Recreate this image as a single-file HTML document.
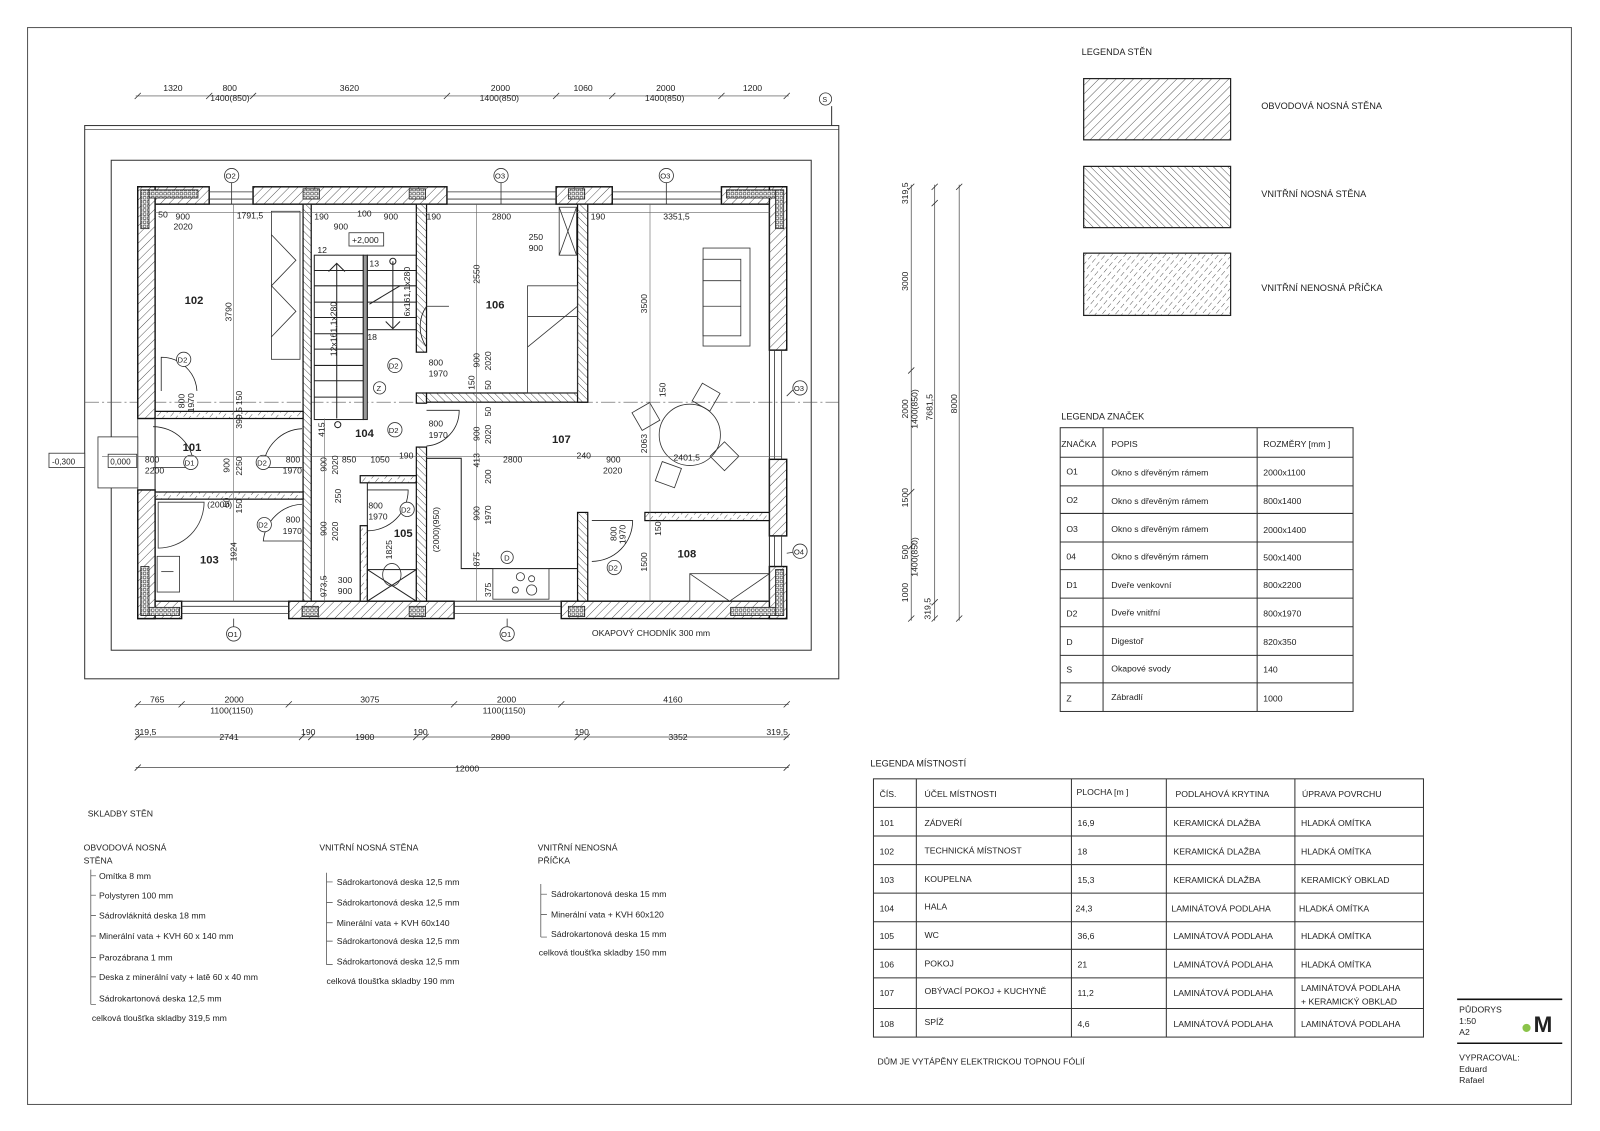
<!DOCTYPE html>
<html><head><meta charset="utf-8"><style>
html,body{margin:0;padding:0;background:#fff;}
svg{display:block;}
text{font-family:"Liberation Sans",Arial,sans-serif;fill:#222;}
</style></head><body>
<svg width="1600" height="1131" viewBox="0 0 1568 1108" preserveAspectRatio="none" xmlns="http://www.w3.org/2000/svg">
<defs>
<pattern id="hA" width="6" height="6" patternUnits="userSpaceOnUse" patternTransform="rotate(45)"><rect width="6" height="6" fill="#fff"/><line x1="0" y1="0" x2="0" y2="6" stroke="#333" stroke-width="0.8"/></pattern>
<pattern id="hB" width="5" height="5" patternUnits="userSpaceOnUse" patternTransform="rotate(-45)"><rect width="5" height="5" fill="#fff"/><line x1="0" y1="0" x2="0" y2="5" stroke="#333" stroke-width="0.8"/></pattern>
<pattern id="hC" width="5" height="8" patternUnits="userSpaceOnUse" patternTransform="rotate(40)"><rect width="5" height="8" fill="#fff"/><line x1="0" y1="0" x2="0" y2="5" stroke="#333" stroke-width="0.8"/></pattern>
<pattern id="ins" width="4" height="4" patternUnits="userSpaceOnUse"><rect width="4" height="4" fill="#fff"/><rect x="0.5" y="0.5" width="2.5" height="2.5" fill="none" stroke="#333" stroke-width="0.6"/></pattern>
</defs>
<rect x="0" y="0" width="1568" height="1108" fill="#fff"/>
<rect x="27" y="27" width="1513" height="1055" fill="none" stroke="#555" stroke-width="1"/>

<rect x="83" y="123" width="739" height="542" fill="none" stroke="#333" stroke-width="1"/>
<line x1="83" y1="127" x2="822" y2="127" stroke="#333" stroke-width="0.6"/>
<rect x="109" y="157" width="686" height="480" fill="none" stroke="#333" stroke-width="1"/>
<line x1="815" y1="104" x2="815" y2="123" stroke="#333"/>
<circle cx="809" cy="97" r="6" fill="#fff" stroke="#333" stroke-width="0.8"/><text x="806" y="100" font-size="7">S</text>
<line x1="83" y1="394" x2="822" y2="394" stroke="#555" stroke-width="0.7" stroke-dasharray="14 3 2 3"/>

<g stroke="#111" stroke-width="1.4">
<rect x="135" y="183" width="70" height="17" fill="url(#hA)"/>
<rect x="248" y="183" width="190" height="17" fill="url(#hA)"/>
<rect x="545" y="183" width="55" height="17" fill="url(#hA)"/>
<rect x="707" y="183" width="64" height="17" fill="url(#hA)"/>
<rect x="135" y="589" width="43" height="17" fill="url(#hA)"/>
<rect x="283" y="589" width="162" height="17" fill="url(#hA)"/>
<rect x="550" y="589" width="221" height="17" fill="url(#hA)"/>
<rect x="135" y="183" width="17" height="227" fill="url(#hA)"/>
<rect x="135" y="480" width="17" height="126" fill="url(#hA)"/>
<rect x="754" y="183" width="17" height="160" fill="url(#hA)"/>
<rect x="754" y="450" width="17" height="75" fill="url(#hA)"/>
<rect x="754" y="555" width="17" height="51" fill="url(#hA)"/>
</g>
<g stroke="#222" stroke-width="0.8">
<rect x="138" y="186" width="56" height="8" fill="url(#ins)"/>
<rect x="138" y="186" width="8" height="38" fill="url(#ins)"/>
<rect x="712" y="186" width="56" height="8" fill="url(#ins)"/>
<rect x="760" y="186" width="8" height="38" fill="url(#ins)"/>
<rect x="138" y="595" width="38" height="8" fill="url(#ins)"/>
<rect x="138" y="555" width="8" height="48" fill="url(#ins)"/>
<rect x="716" y="595" width="52" height="8" fill="url(#ins)"/>
<rect x="760" y="558" width="8" height="45" fill="url(#ins)"/>
<rect x="297" y="185" width="16" height="10" fill="url(#ins)"/>
<rect x="401" y="185" width="16" height="10" fill="url(#ins)"/>
<rect x="557" y="185" width="16" height="10" fill="url(#ins)"/>
<rect x="296" y="594" width="16" height="10" fill="url(#ins)"/>
<rect x="401" y="594" width="16" height="10" fill="url(#ins)"/>
<rect x="557" y="594" width="16" height="10" fill="url(#ins)"/>
</g>
<g stroke="#333" stroke-width="0.8">
<line x1="205" y1="188" x2="248" y2="188"/><line x1="205" y1="195" x2="248" y2="195"/>
<line x1="438" y1="188" x2="545" y2="188"/><line x1="438" y1="195" x2="545" y2="195"/>
<line x1="600" y1="188" x2="707" y2="188"/><line x1="600" y1="195" x2="707" y2="195"/>
<line x1="178" y1="594" x2="283" y2="594"/><line x1="178" y1="601" x2="283" y2="601"/>
<line x1="445" y1="594" x2="550" y2="594"/><line x1="445" y1="601" x2="550" y2="601"/>
<line x1="759" y1="343" x2="759" y2="450"/><line x1="766" y1="343" x2="766" y2="450"/>
<line x1="759" y1="525" x2="759" y2="555"/><line x1="766" y1="525" x2="766" y2="555"/>
<line x1="135" y1="410" x2="135" y2="480"/><line x1="152" y1="410" x2="152" y2="480"/>
</g>
<g stroke="#333" stroke-width="0.8" fill="#fff">
<line x1="227" y1="178" x2="227" y2="200"/><circle cx="227" cy="172" r="7"/>
<line x1="491" y1="178" x2="491" y2="200"/><circle cx="491" cy="172" r="7"/>
<line x1="653" y1="178" x2="653" y2="200"/><circle cx="653" cy="172" r="7"/>
<line x1="229" y1="606" x2="229" y2="614"/><circle cx="229" cy="621" r="7"/>
<line x1="497" y1="606" x2="497" y2="614"/><circle cx="497" cy="621" r="7"/>
<line x1="771" y1="388" x2="777" y2="382"/><circle cx="784" cy="380" r="7"/>
<line x1="771" y1="542" x2="777" y2="541"/><circle cx="784" cy="540" r="7"/>
</g>
<g font-size="7.5">
<text x="221" y="175">O2</text><text x="485" y="175">O3</text><text x="647" y="175">O3</text>
<text x="223" y="624">O1</text><text x="491" y="624">O1</text><text x="778" y="383">O3</text><text x="778" y="543">O4</text>
</g>

<g stroke="#111" stroke-width="1.2">
<rect x="297" y="200" width="8" height="389" fill="url(#hB)"/>
<rect x="408" y="200" width="10" height="145" fill="url(#hB)"/>
<rect x="408" y="385" width="10" height="10" fill="url(#hB)"/>
<rect x="408" y="438" width="10" height="151" fill="url(#hB)"/>
<rect x="418" y="385" width="158" height="9" fill="url(#hB)"/>
<rect x="566" y="200" width="10" height="194" fill="url(#hB)"/>
<rect x="566" y="502" width="10" height="87" fill="url(#hB)"/>
<rect x="632" y="502" width="122" height="8" fill="url(#hC)"/>
<rect x="152" y="403" width="145" height="7" fill="url(#hC)"/>
<rect x="152" y="482" width="145" height="7" fill="url(#hC)"/>
<rect x="353" y="466" width="55" height="7" fill="url(#hC)"/>
<rect x="353" y="515" width="7" height="74" fill="url(#hC)"/>
</g>
<g stroke="#222" stroke-width="1" fill="none">
<rect x="152" y="200" width="602" height="389"/>
<polyline points="418,449 452,449 452,557 566,557"/>
<line x1="360" y1="473" x2="360" y2="515"/>
<rect x="360" y="558" width="48" height="31"/>
<line x1="360" y1="558" x2="408" y2="589"/><line x1="408" y1="558" x2="360" y2="589"/>
</g>
<g stroke="#222" stroke-width="1" fill="none">
<rect x="308" y="250" width="48" height="161"/>
<rect x="356" y="250" width="4" height="161" fill="#999"/>
<rect x="360" y="250" width="48" height="73"/>
<line x1="308" y1="265" x2="356" y2="265"/><line x1="308" y1="280" x2="356" y2="280"/><line x1="308" y1="296" x2="356" y2="296"/>
<line x1="308" y1="311" x2="356" y2="311"/><line x1="308" y1="327" x2="356" y2="327"/><line x1="308" y1="342" x2="356" y2="342"/>
<line x1="308" y1="358" x2="356" y2="358"/><line x1="308" y1="373" x2="356" y2="373"/><line x1="308" y1="389" x2="356" y2="389"/>
<line x1="360" y1="265" x2="408" y2="265"/><line x1="360" y1="280" x2="408" y2="280"/><line x1="360" y1="296" x2="408" y2="296"/><line x1="360" y1="311" x2="408" y2="311"/>
<polyline points="322,266 330,258 338,266"/><line x1="330" y1="258" x2="330" y2="410"/>
<line x1="385" y1="256" x2="385" y2="322"/><polyline points="378,315 385,322 392,315"/>
<line x1="362" y1="298" x2="392" y2="280"/>
<circle cx="385" cy="256" r="3"/><circle cx="331" cy="416" r="3"/>
</g>
<rect x="342" y="228" width="34" height="13" fill="#fff" stroke="#333" stroke-width="0.8"/>
<text x="345" y="238" font-size="8.5">+2,000</text>
<g stroke="#333" stroke-width="0.8" fill="none">
<rect x="266" y="207" width="28" height="145"/>
<polyline points="266,230 290,255 266,280 290,305 266,330"/>
<rect x="548" y="203" width="17" height="47"/><line x1="548" y1="203" x2="565" y2="250"/><line x1="565" y1="203" x2="548" y2="250"/>
<rect x="517" y="280" width="49" height="105"/><line x1="517" y1="310" x2="566" y2="310"/><line x1="517" y1="340" x2="566" y2="300"/>
<rect x="689" y="243" width="46" height="96"/><rect x="689" y="254" width="37" height="75"/>
<line x1="689" y1="275" x2="726" y2="275"/><line x1="689" y1="300" x2="726" y2="300"/>
<circle cx="676" cy="426" r="30"/>
<rect x="682" y="379" width="20" height="20" transform="rotate(30 692 389)"/>
<rect x="623" y="398" width="20" height="20" transform="rotate(-30 633 408)"/>
<rect x="700" y="437" width="20" height="20" transform="rotate(45 710 447)"/>
<rect x="645" y="455" width="20" height="20" transform="rotate(20 655 465)"/>
<rect x="154" y="545" width="22" height="35"/><line x1="158" y1="560" x2="170" y2="560"/>
<path d="M155,492 L200,492 A45,45 0 0 1 155,537 Z"/>
<rect x="483" y="557" width="55" height="30"/><circle cx="510" cy="565" r="4"/><circle cx="521" cy="567" r="3"/><circle cx="505" cy="578" r="3"/><circle cx="521" cy="578" r="5"/>
<ellipse cx="384" cy="563" rx="9" ry="11"/>
<rect x="676" y="562" width="78" height="27"/><line x1="676" y1="562" x2="715" y2="589"/><line x1="754" y1="562" x2="715" y2="589"/>
</g>
<g stroke="#222" stroke-width="0.8" fill="none">
<path d="M158,383 L158,350 A35,35 0 0 1 193,383"/>
<path d="M150,418 A40,40 0 0 1 190,458 L150,458"/>
<path d="M296,420 A40,40 0 0 0 258,458 L296,458"/>
<path d="M296,494 A40,40 0 0 0 258,530 L296,530"/>
<path d="M418,340 A35,35 0 0 1 418,300"/><path d="M418,300 L440,300"/>
<path d="M418,437 A35,35 0 0 0 450,402 L418,402"/>
<path d="M360,520 A40,40 0 0 0 400,480 L360,480"/>
<path d="M580,510 L620,510 A40,40 0 0 1 580,550"/>
</g>
<rect x="96" y="428" width="39" height="50" fill="#fff" stroke="#333" stroke-width="0.8"/>
<rect x="106" y="445" width="28" height="13" fill="#fff" stroke="#333" stroke-width="0.8"/>
<text x="108" y="455" font-size="8">0,000</text>
<rect x="48" y="444" width="35" height="14" fill="#fff" stroke="#333" stroke-width="0.8"/>
<text x="51" y="455" font-size="8">-0,300</text>

<g stroke="#333" stroke-width="0.8" fill="#fff">
<circle cx="180" cy="352" r="7"/><circle cx="187" cy="453" r="7"/><circle cx="258" cy="453" r="7"/>
<circle cx="259" cy="514" r="7"/><circle cx="387" cy="358" r="7"/><circle cx="387" cy="421" r="7"/>
<circle cx="399" cy="499" r="7"/><circle cx="602" cy="556" r="7"/><circle cx="497" cy="546" r="6"/>
<circle cx="372" cy="380" r="6"/>
</g>
<g font-size="7.5">
<text x="174" y="355">D2</text><text x="181" y="456">D1</text><text x="252" y="456">D2</text><text x="253" y="517">D2</text>
<text x="381" y="361">D2</text><text x="381" y="424">D2</text><text x="393" y="502">D2</text><text x="596" y="559">D2</text>
<text x="494" y="549">D</text><text x="369" y="383">Z</text>
</g>

<g stroke="#666" stroke-width="0.6">
<line x1="152" y1="208" x2="754" y2="208"/>
<line x1="100" y1="447" x2="766" y2="447"/>
<line x1="229" y1="200" x2="229" y2="589"/>
<line x1="467" y1="200" x2="467" y2="589"/>
<line x1="637" y1="200" x2="637" y2="589"/>
<line x1="318" y1="410" x2="318" y2="589"/>
</g>
<g font-size="11" font-weight="bold">
<text x="181" y="298">102</text><text x="476" y="302">106</text><text x="541" y="434">107</text>
<text x="179" y="442">101</text><text x="348" y="428">104</text><text x="386" y="526">105</text>
<text x="196" y="552">103</text><text x="664" y="546">108</text>
</g>
<g font-size="8.5">
<text x="155" y="213">50</text><text x="172" y="215">900</text><text x="170" y="225">2020</text><text x="232" y="214">1791,5</text>
<text x="308" y="215">190</text><text x="350" y="212">100</text><text x="327" y="225">900</text><text x="376" y="215">900</text><text x="418" y="215">190</text>
<text x="482" y="215">2800</text><text x="579" y="215">190</text><text x="650" y="215">3351,5</text>
<text x="518" y="235">250</text><text x="518" y="246">900</text>
<text x="311" y="248">12</text><text x="362" y="261">13</text><text x="360" y="333">18</text>
<text x="420" y="358">800</text><text x="420" y="369">1970</text>
<text x="420" y="418">800</text><text x="420" y="429">1970</text>
<text x="142" y="453">800</text><text x="142" y="464">2200</text>
<text x="280" y="453">800</text><text x="277" y="464">1970</text>
<text x="280" y="512">800</text><text x="277" y="523">1970</text>
<text x="335" y="453">850</text><text x="363" y="453">1050</text><text x="391" y="449">190</text>
<text x="493" y="453">2800</text><text x="565" y="449">240</text><text x="594" y="453">900</text><text x="591" y="464">2020</text><text x="660" y="451">2401,5</text>
<text x="361" y="498">800</text><text x="361" y="509">1970</text>
<text x="331" y="571">300</text><text x="331" y="582">900</text>
<text x="203" y="497">(2000)</text>
</g>
<g font-size="8.5">
<text transform="translate(227,315) rotate(-90)">3790</text>
<text transform="translate(237,397) rotate(-90)">150</text>
<text transform="translate(237,420) rotate(-90)">399,5</text>
<text transform="translate(181,400) rotate(-90)">800</text>
<text transform="translate(190,404) rotate(-90)">1970</text>
<text transform="translate(225,463) rotate(-90)">900</text>
<text transform="translate(237,466) rotate(-90)">2250</text>
<text transform="translate(225,497) rotate(-90)">50</text>
<text transform="translate(237,503) rotate(-90)">150</text>
<text transform="translate(232,550) rotate(-90)">1924</text>
<text transform="translate(318,428) rotate(-90)">415</text>
<text transform="translate(320,462) rotate(-90)">900</text>
<text transform="translate(331,465) rotate(-90)">2020</text>
<text transform="translate(334,493) rotate(-90)">250</text>
<text transform="translate(320,525) rotate(-90)">900</text>
<text transform="translate(331,530) rotate(-90)">2020</text>
<text transform="translate(320,585) rotate(-90)">973,5</text>
<text transform="translate(330,349) rotate(-90)">12x161,1x280</text>
<text transform="translate(402,310) rotate(-90)">6x161,1x280</text>
<text transform="translate(430,541) rotate(-90)">(2000)(950)</text>
<text transform="translate(384,548) rotate(-90)">1825</text>
<text transform="translate(470,278) rotate(-90)">2550</text>
<text transform="translate(470,360) rotate(-90)">900</text>
<text transform="translate(481,363) rotate(-90)">2020</text>
<text transform="translate(465,382) rotate(-90)">150</text>
<text transform="translate(481,382) rotate(-90)">50</text>
<text transform="translate(481,408) rotate(-90)">50</text>
<text transform="translate(470,432) rotate(-90)">900</text>
<text transform="translate(481,435) rotate(-90)">2020</text>
<text transform="translate(470,458) rotate(-90)">413</text>
<text transform="translate(481,474) rotate(-90)">200</text>
<text transform="translate(470,510) rotate(-90)">900</text>
<text transform="translate(481,514) rotate(-90)">1970</text>
<text transform="translate(470,555) rotate(-90)">875</text>
<text transform="translate(481,585) rotate(-90)">375</text>
<text transform="translate(634,307) rotate(-90)">3500</text>
<text transform="translate(652,389) rotate(-90)">150</text>
<text transform="translate(634,444) rotate(-90)">2063</text>
<text transform="translate(648,525) rotate(-90)">150</text>
<text transform="translate(634,560) rotate(-90)">1500</text>
<text transform="translate(604,530) rotate(-90)">800</text>
<text transform="translate(613,533) rotate(-90)">1970</text>
</g>
<text x="580" y="623" font-size="8.5">OKAPOVÝ CHODNÍK 300 mm</text>

<g stroke="#444" stroke-width="0.7">
<line x1="133" y1="94" x2="773" y2="94"/>
<line x1="133" y1="690" x2="773" y2="690"/>
<line x1="133" y1="722" x2="773" y2="722"/>
<line x1="133" y1="752" x2="773" y2="752"/>
<line x1="893" y1="181" x2="893" y2="608"/>
<line x1="916" y1="181" x2="916" y2="608"/>
<line x1="940" y1="181" x2="940" y2="608"/>
</g>
<g stroke="#333" stroke-width="0.8">
<path d="M132,97 l6,-6 M202,97 l6,-6 M245,97 l6,-6 M435,97 l6,-6 M542,97 l6,-6 M597,97 l6,-6 M704,97 l6,-6 M768,97 l6,-6"/>
<path d="M132,693 l6,-6 M175,693 l6,-6 M280,693 l6,-6 M442,693 l6,-6 M547,693 l6,-6 M768,693 l6,-6"/>
<path d="M132,725 l6,-6 M293,725 l6,-6 M302,725 l6,-6 M405,725 l6,-6 M414,725 l6,-6 M563,725 l6,-6 M572,725 l6,-6 M768,725 l6,-6"/>
<path d="M132,755 l6,-6 M768,755 l6,-6"/>
<path d="M890,186 l6,-6 M890,366 l6,-6 M890,485 l6,-6 M890,538 l6,-6 M890,609 l6,-6"/>
<path d="M913,186 l6,-6 M913,202 l6,-6 M913,593 l6,-6 M913,609 l6,-6"/>
<path d="M937,186 l6,-6 M937,609 l6,-6"/>
</g>
<g font-size="8.5">
<text x="160" y="89">1320</text><text x="218" y="89">800</text><text x="206" y="99">1400(850)</text>
<text x="333" y="89">3620</text><text x="481" y="89">2000</text><text x="470" y="99">1400(850)</text>
<text x="562" y="89">1060</text><text x="643" y="89">2000</text><text x="632" y="99">1400(850)</text><text x="728" y="89">1200</text>
<text x="147" y="688">765</text><text x="220" y="688">2000</text><text x="206" y="699">1100(1150)</text>
<text x="353" y="688">3075</text><text x="487" y="688">2000</text><text x="473" y="699">1100(1150)</text><text x="650" y="688">4160</text>
<text x="132" y="720">319,5</text><text x="215" y="725">2741</text><text x="295" y="720">190</text><text x="348" y="725">1900</text>
<text x="405" y="720">190</text><text x="481" y="725">2800</text><text x="563" y="720">190</text><text x="655" y="725">3352</text><text x="751" y="720">319,5</text>
<text x="446" y="756">12000</text>
<text transform="translate(890,200) rotate(-90)">319,5</text>
<text transform="translate(890,285) rotate(-90)">3000</text>
<text transform="translate(890,410) rotate(-90)">2000</text>
<text transform="translate(899,420) rotate(-90)">1400(850)</text>
<text transform="translate(914,412) rotate(-90)">7681,5</text>
<text transform="translate(938,405) rotate(-90)">8000</text>
<text transform="translate(890,497) rotate(-90)">1500</text>
<text transform="translate(890,548) rotate(-90)">500</text>
<text transform="translate(899,565) rotate(-90)">1400(850)</text>
<text transform="translate(890,590) rotate(-90)">1000</text>
<text transform="translate(912,607) rotate(-90)">319,5</text>
</g>

<text x="1060" y="54" font-size="9">LEGENDA STĚN</text>
<rect x="1062" y="77" width="144" height="60" fill="url(#hA)" stroke="#222" stroke-width="1.2"/>
<rect x="1062" y="163" width="144" height="60" fill="url(#hB)" stroke="#222" stroke-width="1.2"/>
<rect x="1062" y="248" width="144" height="61" fill="url(#hC)" stroke="#222" stroke-width="1.2"/>
<g font-size="9"><text x="1236" y="107">OBVODOVÁ NOSNÁ STĚNA</text><text x="1236" y="193">VNITŘNÍ NOSNÁ STĚNA</text><text x="1236" y="285">VNITŘNÍ NENOSNÁ PŘÍČKA</text></g>

<text x="1040" y="411" font-size="9">LEGENDA ZNAČEK</text>
<g stroke="#333" stroke-width="1" fill="none">
<rect x="1039" y="419" width="287" height="278"/>
<line x1="1081" y1="419" x2="1081" y2="697"/><line x1="1232" y1="419" x2="1232" y2="697"/>
<line x1="1039" y1="448" x2="1326" y2="448"/><line x1="1039" y1="476" x2="1326" y2="476"/><line x1="1039" y1="503" x2="1326" y2="503"/>
<line x1="1039" y1="531" x2="1326" y2="531"/><line x1="1039" y1="558" x2="1326" y2="558"/><line x1="1039" y1="586" x2="1326" y2="586"/>
<line x1="1039" y1="614" x2="1326" y2="614"/><line x1="1039" y1="642" x2="1326" y2="642"/><line x1="1039" y1="669" x2="1326" y2="669"/>
</g>
<g font-size="8.5">
<text x="1040" y="438">ZNAČKA</text><text x="1089" y="438">POPIS</text><text x="1238" y="438">ROZMĚRY  [mm ]</text>
<text x="1045" y="465">O1</text><text x="1089" y="466">Okno s dřevěným  rámem</text><text x="1238" y="466">2000x1100</text>
<text x="1045" y="493">O2</text><text x="1089" y="494">Okno s dřevěným  rámem</text><text x="1238" y="494">800x1400</text>
<text x="1045" y="521">O3</text><text x="1089" y="521">Okno s dřevěným  rámem</text><text x="1238" y="522">2000x1400</text>
<text x="1045" y="548">04</text><text x="1089" y="548">Okno s dřevěným  rámem</text><text x="1238" y="549">500x1400</text>
<text x="1045" y="576">D1</text><text x="1089" y="576">Dveře venkovní</text><text x="1238" y="576">800x2200</text>
<text x="1045" y="604">D2</text><text x="1089" y="603">Dveře vnitřní</text><text x="1238" y="604">800x1970</text>
<text x="1045" y="632">D</text><text x="1089" y="631">Digestoř</text><text x="1238" y="632">820x350</text>
<text x="1045" y="659">S</text><text x="1089" y="658">Okapové svody</text><text x="1238" y="659">140</text>
<text x="1045" y="687">Z</text><text x="1089" y="686">Zábradlí</text><text x="1238" y="687">1000</text>
</g>

<text x="853" y="751" font-size="9">LEGENDA MÍSTNOSTÍ</text>
<g stroke="#333" stroke-width="1" fill="none">
<rect x="856" y="763" width="539" height="253"/>
<line x1="898" y1="763" x2="898" y2="1016"/><line x1="1050" y1="763" x2="1050" y2="1016"/><line x1="1143" y1="763" x2="1143" y2="1016"/><line x1="1269" y1="763" x2="1269" y2="1016"/>
<line x1="856" y1="791" x2="1395" y2="791"/><line x1="856" y1="819" x2="1395" y2="819"/><line x1="856" y1="847" x2="1395" y2="847"/>
<line x1="856" y1="875" x2="1395" y2="875"/><line x1="856" y1="903" x2="1395" y2="903"/><line x1="856" y1="930" x2="1395" y2="930"/>
<line x1="856" y1="958" x2="1395" y2="958"/><line x1="856" y1="988" x2="1395" y2="988"/>
</g>
<g font-size="8.5">
<text x="862" y="781">ČÍS.</text><text x="906" y="781">ÚČEL MÍSTNOSTI</text><text x="1055" y="779">PLOCHA  [m ]</text><text x="1152" y="781">PODLAHOVÁ KRYTINA</text><text x="1276" y="781">ÚPRAVA POVRCHU</text>
<text x="862" y="809">101</text><text x="906" y="809">ZÁDVEŘÍ</text><text x="1056" y="809">16,9</text><text x="1150" y="809">KERAMICKÁ DLAŽBA</text><text x="1275" y="809">HLADKÁ OMÍTKA</text>
<text x="862" y="837">102</text><text x="906" y="836">TECHNICKÁ MÍSTNOST</text><text x="1056" y="837">18</text><text x="1150" y="837">KERAMICKÁ DLAŽBA</text><text x="1275" y="837">HLADKÁ OMÍTKA</text>
<text x="862" y="865">103</text><text x="906" y="864">KOUPELNA</text><text x="1056" y="865">15,3</text><text x="1150" y="865">KERAMICKÁ DLAŽBA</text><text x="1275" y="865">KERAMICKÝ OBKLAD</text>
<text x="862" y="893">104</text><text x="906" y="891">HALA</text><text x="1054" y="893">24,3</text><text x="1148" y="893">LAMINÁTOVÁ PODLAHA</text><text x="1273" y="893">HLADKÁ OMÍTKA</text>
<text x="862" y="920">105</text><text x="906" y="919">WC</text><text x="1056" y="920">36,6</text><text x="1150" y="920">LAMINÁTOVÁ PODLAHA</text><text x="1275" y="920">HLADKÁ OMÍTKA</text>
<text x="862" y="948">106</text><text x="906" y="947">POKOJ</text><text x="1056" y="948">21</text><text x="1150" y="948">LAMINÁTOVÁ PODLAHA</text><text x="1275" y="948">HLADKÁ OMÍTKA</text>
<text x="862" y="976">107</text><text x="906" y="974">OBÝVACÍ POKOJ + KUCHYNĚ</text><text x="1056" y="976">11,2</text><text x="1150" y="976">LAMINÁTOVÁ PODLAHA</text><text x="1275" y="971">LAMINÁTOVÁ PODLAHA</text><text x="1275" y="984">+ KERAMICKÝ OBKLAD</text>
<text x="862" y="1006">108</text><text x="906" y="1004">SPÍŽ</text><text x="1056" y="1006">4,6</text><text x="1150" y="1006">LAMINÁTOVÁ PODLAHA</text><text x="1275" y="1006">LAMINÁTOVÁ PODLAHA</text>
</g>
<text x="860" y="1043" font-size="8.5">DŮM JE VYTÁPĚNY ELEKTRICKOU TOPNOU FÓLIÍ</text>

<g font-size="8.5">
<text x="86" y="800">SKLADBY STĚN</text>
<text x="82" y="833">OBVODOVÁ NOSNÁ</text><text x="82" y="846">STĚNA</text>
<text x="97" y="861">Omítka 8 mm</text><text x="97" y="880">Polystyren 100 mm</text><text x="97" y="900">Sádrovláknitá deska 18 mm</text>
<text x="97" y="920">Minerální vata + KVH 60 x 140 mm</text><text x="97" y="941">Parozábrana 1 mm</text>
<text x="97" y="960">Deska z minerální vaty + latě 60 x 40 mm</text><text x="97" y="981">Sádrokartonová deska 12,5 mm</text>
<text x="90" y="1000">celková tloušťka skladby 319,5 mm</text>
<text x="313" y="833">VNITŘNÍ NOSNÁ STĚNA</text>
<text x="330" y="867">Sádrokartonová deska 12,5 mm</text><text x="330" y="887">Sádrokartonová deska 12,5 mm</text>
<text x="330" y="907">Minerální vata + KVH 60x140</text><text x="330" y="925">Sádrokartonová deska 12,5 mm</text>
<text x="330" y="945">Sádrokartonová deska 12,5 mm</text><text x="320" y="964">celková tloušťka skladby 190 mm</text>
<text x="527" y="833">VNITŘNÍ NENOSNÁ</text><text x="527" y="846">PŘÍČKA</text>
<text x="540" y="879">Sádrokartonová deska 15 mm</text><text x="540" y="899">Minerální vata + KVH 60x120</text>
<text x="540" y="918">Sádrokartonová deska 15 mm</text><text x="528" y="936">celková tloušťka skladby 150 mm</text>
</g>
<g stroke="#444" stroke-width="0.7" fill="none">
<path d="M89,852 V984 M89,858 h5 M89,877 h5 M89,897 h5 M89,917 h5 M89,938 h5 M89,957 h5 M89,984 h5"/>
<path d="M320,855 V945 M320,864 h6 M320,884 h6 M320,904 h6 M320,922 h6 M320,945 h6"/>
<path d="M530,866 V918 M530,876 h6 M530,896 h6 M530,918 h6"/>
</g>

<line x1="1428" y1="979" x2="1531" y2="979" stroke="#111" stroke-width="1.5"/>
<line x1="1428" y1="1022" x2="1531" y2="1022" stroke="#111" stroke-width="1.5"/>
<g font-size="8.5"><text x="1430" y="992">PŮDORYS</text><text x="1430" y="1003">1:50</text><text x="1430" y="1014">A2</text>
<text x="1430" y="1039">VYPRACOVAL:</text><text x="1430" y="1050">Eduard</text><text x="1430" y="1061">Rafael</text></g>
<circle cx="1496" cy="1007" r="4" fill="#8bc34a"/>
<text x="1503" y="1011" font-size="22" font-weight="bold" fill="#111">M</text>
</svg>
</body></html>
